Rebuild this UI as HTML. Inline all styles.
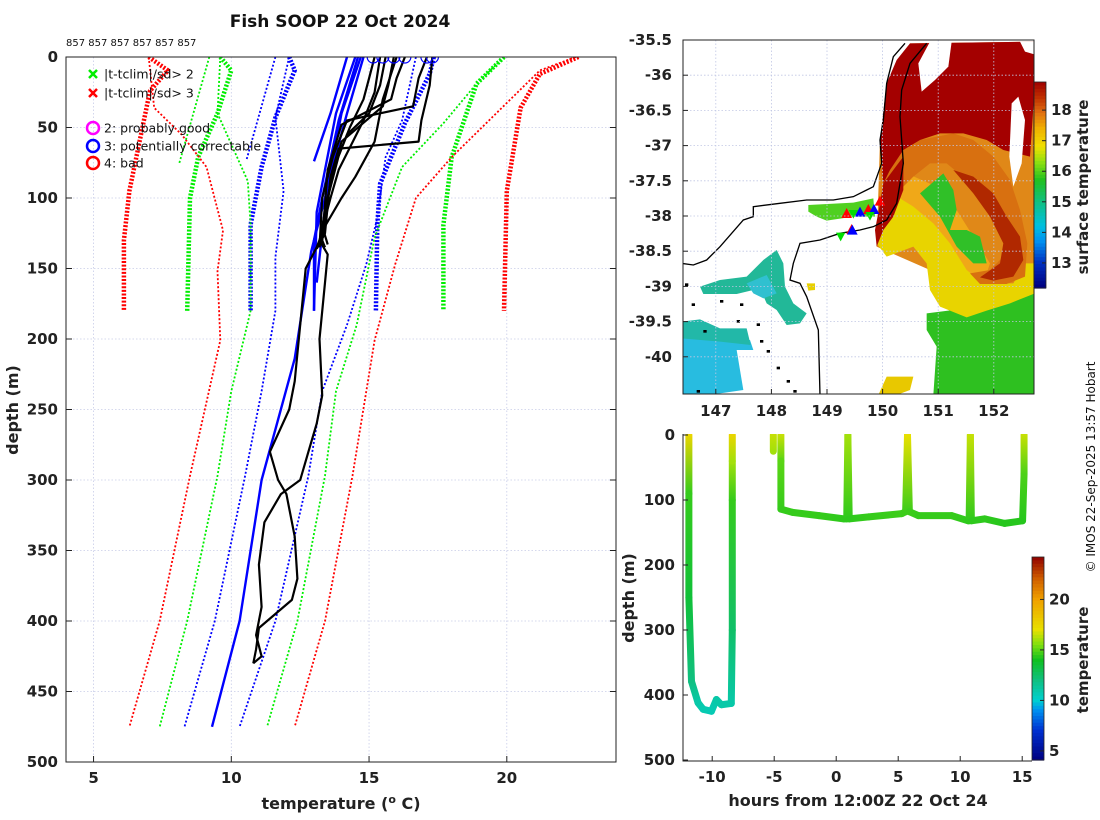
<!DOCTYPE html>
<html><head><meta charset="utf-8"><style>
body{margin:0;background:#fff}
svg{display:block;font-family:"DejaVu Sans","Liberation Sans",sans-serif}
.tk{font-size:15px;font-weight:bold;fill:#222}
</style></head><body>
<svg id="root" width="1100" height="820" viewBox="0 0 1100 820" xmlns="http://www.w3.org/2000/svg">
<defs>
<clipPath id="mainClip"><rect x="66" y="57" width="550" height="705"/></clipPath>
<clipPath id="mapClip"><rect x="683" y="40" width="351" height="354"/></clipPath>
<clipPath id="botClip"><rect x="683" y="434" width="349" height="327"/></clipPath>
</defs>
<rect width="1100" height="820" fill="#fff"/>
<text x="340" y="27" text-anchor="middle" font-size="17" font-weight="bold" fill="#111">Fish SOOP 22 Oct 2024</text>
<text x="66" y="46" font-size="10" fill="#111">857 857 857 857 857 857</text>
<g id="main"></g>
<g id="map"></g>
<g id="bot"></g>
<text transform="translate(1095,467) rotate(-90)" text-anchor="middle" font-size="12" fill="#111">© IMOS 22-Sep-2025 13:57 Hobart</text>
</svg>
<script>
const NS="http://www.w3.org/2000/svg";
function mk(tag,attrs,parent){const e=document.createElementNS(NS,tag);for(const k in attrs)e.setAttribute(k,attrs[k]);parent.appendChild(e);return e;}

// ---------- main profile plot data ----------
const xTicks=[5,10,15,20];
const yTicks=[0,50,100,150,200,250,300,350,400,450,500];
const redShortL_T=[7.0,7.7,7.05,6.3,6.1,6.1], redShortL_D=[0,9.5,24,95,130,180];
const greenShortL_T=[9.6,10.0,9.5,8.8,8.5,8.4], greenShortL_D=[0,9.5,40,71,100,180];
const blueShortL_T=[12.1,12.3,11.6,11.1,10.7,10.7], blueShortL_D=[0,9.5,43,78,119,180];
const blueShortR_T=[17.35,17.2,16.3,15.4,15.3,15.25], blueShortR_D=[0,12,47,90,119,180];
const greenShortR_T=[19.9,18.9,18.0,17.7,17.7], greenShortR_D=[0,19,71,119,180];
const redShortR_T=[22.6,21.2,20.5,20.0,19.9], redShortR_D=[0,12,36,95,180];
const redLongL_T=[7.0,7.2,8.2,9.1,9.7,9.5,9.6,8.5,7.4,6.3], redLongL_D=[0,36,55,78,123,152,201,297,400,475];
const greenLongL_T=[9.6,9.5,10.6,10.7,10.7,10.0,9.5,8.4,7.4], greenLongL_D=[0,40,88,119,180,237,297,400,475];
const greenTop_T=[9.2,8.1], greenTop_D=[0,76];
const blueTop_T=[11.6,10.55], blueTop_D=[0,73];
const blueLongL_T=[12.1,11.6,11.9,11.6,11.6,11.1,10.5,9.4,8.3], blueLongL_D=[0,43,95,142,180,237,297,400,475];
const blueLongR_T=[16.7,16.2,15.6,15.3,14.9,14.2,13.3,12.8,11.6,10.3], blueLongR_D=[0,45,71,114,147,190,237,297,400,475];
const greenLongR_T=[19.9,18.9,17.7,16.2,15.2,14.55,13.8,13.4,12.4,11.3], greenLongR_D=[0,19,47,78,128,190,237,297,400,475];
const redLongR_T=[22.5,21.2,19.25,18.0,16.7,15.95,15.2,14.4,13.4,12.3], redLongR_D=[0,9.5,47,71,100,147,201,297,400,475];
const meanA_T=[14.2,13.6,13.0], meanA_D=[0,40,74];
const meanB_T=[14.5,13.8,13.4,13.1,13.0], meanB_D=[0,40,80,110,180];
const meanC_T=[14.7,14.0,13.4,13.0,13.0], meanC_D=[0,40,100,130,180];
const meanD_T=[14.8,14.2,13.5,13.1], meanD_D=[0,40,90,160];
const meanLong_T=[14.6,13.9,13.3,13.0,12.9,12.3,11.1,10.3,9.3], meanLong_D=[0,45,100,130,138,214,300,400,475];
const obs1_T=[15.2,15.0,14.8,14.3,13.9,13.5,13.3,13.4], obs1_D=[0,15,30,50,70,100,130,135];
const obs2_T=[15.6,15.4,15.0,14.2,13.7,13.4,13.2], obs2_D=[0,20,40,55,80,110,135];
const obs3_T=[15.9,15.7,15.5,14.0,13.6,13.3,13.5], obs3_D=[0,20,35,60,90,120,133];
const obs4_T=[16.3,16.0,15.8,14.0,13.5,13.3], obs4_D=[0,15,30,48,80,130];
const obs5_T=[17.1,16.8,16.6,14.2,13.7,13.3,13.2], obs5_D=[0,15,35,45,70,100,135];
const obs6_T=[17.3,17.2,16.9,16.8,13.9,13.6,13.4,13.1], obs6_D=[0,20,45,60,65,85,125,136];
const obs7_T=[16.0,15.5,15.2,14.5,14.0,13.4,13.1,12.7,12.5,12.3,12.1,11.4,11.7,12.0,12.3,12.4,12.2,11.3,11.0,10.9,10.8], obs7_D=[0,30,60,85,100,120,135,150,190,230,250,280,300,310,340,370,385,400,405,420,430];
const obs8_T=[15.4,15.2,14.8,13.9,13.6,13.2,13.5,13.4,13.2,13.3,13.1,12.8,12.5,11.8,11.2,11.0,11.1,10.9,11.1,10.8], obs8_D=[0,25,45,80,100,130,140,160,200,240,260,280,300,310,330,360,390,410,425,430];
const flagT=[15.15,15.5,15.9,16.3,17.1,17.3];

const X=t=>66+(t-4)*27.55, Y=d=>57+d*1.41;
const main=document.getElementById('main');
for(const t of xTicks){const l=mk('line',{x1:X(t),x2:X(t),y1:57,y2:762,stroke:'#c8cce8','stroke-width':0.8,'stroke-dasharray':'1.5,2'},main);

}
for(const d of yTicks){const l=mk('line',{x1:66,x2:616,y1:Y(d),y2:Y(d),stroke:'#c8cce8','stroke-width':0.8,'stroke-dasharray':'1.5,2'},main);

}
const mg=mk('g',{'clip-path':'url(#mainClip)'},main);
function pl(T,D,color,w,dash,name){
  const pts=T.map((t,i)=>X(t).toFixed(1)+','+Y(D[i]).toFixed(1)).join(' ');
  const p=mk('polyline',{points:pts,fill:'none',stroke:color,'stroke-width':w,'stroke-linejoin':'round'},mg);
  if(dash)p.setAttribute('stroke-dasharray',dash);
  
  
}
const thick=[[redShortL_T,redShortL_D,'#f00'],[greenShortL_T,greenShortL_D,'#0e0'],[blueShortL_T,blueShortL_D,'#00f'],[blueShortR_T,blueShortR_D,'#00f'],[greenShortR_T,greenShortR_D,'#0e0'],[redShortR_T,redShortR_D,'#f00']];
for(const s of thick)pl(s[0],s[1],s[2],4.5,'2,1.6','climatology-short-line');
const thin=[[redLongL_T,redLongL_D,'#f00'],[greenLongL_T,greenLongL_D,'#0e0'],[greenTop_T,greenTop_D,'#0e0'],[blueTop_T,blueTop_D,'#00f'],[blueLongL_T,blueLongL_D,'#00f'],[blueLongR_T,blueLongR_D,'#00f'],[greenLongR_T,greenLongR_D,'#0e0'],[redLongR_T,redLongR_D,'#f00']];
for(const s of thin)pl(s[0],s[1],s[2],1.8,'2,2','climatology-long-line');
for(const s of [[meanA_T,meanA_D],[meanB_T,meanB_D],[meanC_T,meanC_D],[meanD_T,meanD_D],[meanLong_T,meanLong_D]])pl(s[0],s[1],'#00f',2.4,null,'climatology-mean-line');
for(const s of [[obs1_T,obs1_D],[obs2_T,obs2_D],[obs3_T,obs3_D],[obs4_T,obs4_D],[obs5_T,obs5_D],[obs6_T,obs6_D],[obs7_T,obs7_D],[obs8_T,obs8_D]])pl(s[0],s[1],'#000',2.2,null,'temperature-profile');
for(const t of flagT){const c=mk('circle',{cx:X(t),cy:57,r:6,fill:'none',stroke:'#00f','stroke-width':1.2},mg);

}
const bx=mk('rect',{x:66,y:57,width:550,height:705,fill:'none',stroke:'#222','stroke-width':1},main);


for(const t of xTicks){mk('line',{x1:X(t),x2:X(t),y1:762,y2:756,stroke:'#222'},main);
const tx=mk('text',{x:X(t),y:783,'text-anchor':'middle',class:'tk'},main);tx.textContent=t;

}
for(const d of yTicks){mk('line',{x1:66,x2:72,y1:Y(d),y2:Y(d),stroke:'#222'},main);mk('line',{x1:616,x2:610,y1:Y(d),y2:Y(d),stroke:'#222'},main);
const tx=mk('text',{x:58,y:Y(d)+5,'text-anchor':'end',class:'tk'},main);tx.textContent=d;

}
let t1=mk('text',{x:341,y:809,'text-anchor':'middle','font-size':16,'font-weight':'bold',fill:'#222'},main);
t1.innerHTML='temperature (<tspan dy="-6" font-size="11">o</tspan><tspan dy="6"> C)</tspan>';


let t2=mk('text',{transform:'translate(18,410) rotate(-90)','text-anchor':'middle','font-size':16,'font-weight':'bold',fill:'#222'},main);t2.textContent='depth (m)';


const lg=mk('g',{},main);


const legItems=[['x','#0e0',74,'|t-tclim|/sd> 2'],['x','#f00',93,'|t-tclim|/sd> 3'],['o','#f0f',128,'2: probably good'],['o','#00f',146,'3: potentially correctable'],['o','#f00',163,'4: bad']];
for(const it of legItems){
  if(it[0]==='x'){mk('path',{d:`M89 ${it[2]-4}l8 8M97 ${it[2]-4}l-8 8`,stroke:it[1],'stroke-width':2.5},lg);}
  else mk('circle',{cx:93,cy:it[2],r:6,fill:'none',stroke:it[1],'stroke-width':2.5},lg);
  const tx=mk('text',{x:104,y:it[2]+4.5,'font-size':12.5,fill:'#111'},lg);tx.textContent=it[3];
  
  
}

// ---------- map ----------
const lonTicks=[147,148,149,150,151,152];
const latTicks=[-35.5,-36,-36.5,-37,-37.5,-38,-38.5,-39,-39.5,-40];
const sstTicks=[13,14,15,16,17,18];
const LX=lo=>683+(lo-146.41)*55.6, LY=la=>40+(-35.5-la)*70.4;
const map=document.getElementById('map');
const mgc=mk('g',{'clip-path':'url(#mapClip)'},map);
const img=mk('g',{transform:'translate(620,30) scale(0.33333)'},mgc);


const regions=[
['185,900 260,890 330,930 390,930 400,960 350,960 370,1080 300,1090 185,1095','#28bce0'],
['185,875 240,868 300,895 380,895 392,945 300,935 185,925','#22b8a8'],
['240,770 300,750 380,740 430,690 470,660 490,700 495,770 520,820 560,850 540,880 500,885 470,840 440,820 420,775 350,792 250,792','#22b898'],
['380,760 440,735 470,790 430,805 400,790','#30c0d0'],
['565,525 700,518 760,505 765,560 700,560 620,572 590,560 565,545','#50d020'],
['560,760 585,760 585,780 565,782','#e8d000'],
['775,1095 800,1040 880,1040 870,1080 830,1095','#e8c800'],
['780,330 870,40 1245,35 1245,720 1150,790 1000,770 930,720 770,650','#e08818'],
['920,850 1000,840 1100,820 1180,800 1245,780 1245,1095 940,1095 950,950 920,900','#2ec020'],
['770,640 790,560 800,480 880,480 900,520 960,560 1000,640 1050,700 1100,760 1180,760 1215,700 1245,700 1245,790 1170,820 1100,842 1040,862 960,830 930,780 920,700 880,650 800,680','#e8d400'],
['800,480 860,430 950,470 1010,540 1060,620 1110,700 1090,760 1040,720 990,640 940,580 880,530','#f0a818'],
['900,490 970,430 1000,480 1010,540 990,600 1040,600 1080,620 1100,700 1060,700 1010,650 960,560','#30c028'],
['780,420 830,360 900,330 1000,310 1060,330 1120,380 1170,450 1200,540 1222,640 1215,740 1160,762 1080,762 1050,730 1110,720 1150,680 1150,600 1110,520 1040,450 980,400 930,400 880,440 840,480 800,500 790,460','#d87010'],
['1000,420 1060,440 1120,490 1160,560 1200,620 1210,690 1180,740 1120,752 1080,742 1140,700 1150,640 1110,560 1060,490','#b02800'],
['870,40 1245,35 1245,160 1230,380 1150,360 1100,330 1030,310 960,310 900,330 850,360 810,420 790,460 780,330 800,160 830,90','#a40000'],
['790,460 850,380 850,480 820,560 790,600 770,650 765,600 780,520','#a80800'],
['930,35 995,35 985,110 945,150 905,185 895,100','#ffffff'],
['1175,220 1195,200 1215,270 1205,400 1180,470 1168,380','#ffffff'],
['1200,35 1250,35 1250,75 1215,65','#ffffff']];
for(const r of regions){const p=mk('polygon',{points:r[0],fill:r[1]},img);

}
const coast=mk('polyline',{points:'185,700 220,705 260,690 300,650 370,570 400,560 400,530 480,520 560,510 640,510 700,500 740,480 760,470 785,400 780,330 790,270 800,160 820,80 855,40',fill:'none',stroke:'#000','stroke-width':4},img);


const iso=mk('polyline',{points:'600,1095 595,900 560,800 540,760 510,750 520,700 540,640 600,630 660,610 720,600 760,590 800,570 830,520 850,400 840,260 845,180 870,100 920,40',fill:'none',stroke:'#000','stroke-width':4},img);


for(const xy of [[195,760],[215,820],[300,810],[360,820],[410,880],[420,930],[440,960],[470,1010],[500,1050],[520,1080],[350,870],[230,1080],[250,900]]){mk('rect',{x:xy[0],y:xy[1],width:10,height:8,fill:'#000'},img);}
const triUp=[[780,515,'#f00'],[695,600,'#f00'],[745,540,'#f00'],[680,552,'#f00'],[720,548,'#00f'],[762,540,'#00f'],[697,602,'#00f']];
for(const t of triUp){const p=mk('polygon',{points:`${t[0]},${t[1]-18} ${t[0]-16},${t[1]+12} ${t[0]+16},${t[1]+12}`,fill:t[2]},img);

}
for(const t of [[662,620],[700,552],[750,558]]){const p=mk('polygon',{points:`${t[0]-14},${t[1]-12} ${t[0]+14},${t[1]-12} ${t[0]},${t[1]+14}`,fill:'#0d0'},img);

}
for(const lo of lonTicks){mk('line',{x1:LX(lo),x2:LX(lo),y1:40,y2:394,stroke:'#c0c6e4','stroke-width':0.8,'stroke-dasharray':'1.5,2'},map);
mk('line',{x1:LX(lo),x2:LX(lo),y1:394,y2:389,stroke:'#222'},map);
const tx=mk('text',{x:LX(lo),y:416,'text-anchor':'middle',class:'tk'},map);tx.textContent=lo;

}
for(const la of latTicks){mk('line',{x1:683,x2:1034,y1:LY(la),y2:LY(la),stroke:'#c0c6e4','stroke-width':0.8,'stroke-dasharray':'1.5,2'},map);
mk('line',{x1:683,x2:688,y1:LY(la),y2:LY(la),stroke:'#222'},map);
const tx=mk('text',{x:672,y:LY(la)+5,'text-anchor':'end',class:'tk'},map);tx.textContent=la;

}
const mf=mk('rect',{x:683,y:40,width:351,height:354,fill:'none',stroke:'#222'},map);


const sstStops=[[12.2,'#000080'],[13,'#0030c0'],[13.7,'#0090f0'],[14.2,'#00c0e0'],[15,'#10c080'],[15.7,'#20c020'],[16.3,'#90e010'],[16.8,'#f0e000'],[17.4,'#f0b000'],[17.9,'#e07010'],[18.4,'#c03000'],[18.92,'#a00000']];
const tStops=[[4.1,'#000080'],[7,'#0030d0'],[9,'#0090f0'],[10,'#00d0d0'],[12,'#10c080'],[14,'#10c020'],[15.5,'#80e010'],[17,'#e8e000'],[20,'#f0a000'],[22,'#d06000'],[24.2,'#900000']];
function hex(c){return [1,3,5].map(i=>parseInt(c.substr(i,2),16));}
function cmap(stops,v){if(v<=stops[0][0])return stops[0][1];for(let i=1;i<stops.length;i++){if(v<=stops[i][0]){const a=hex(stops[i-1][1]),b=hex(stops[i][1]),f=(v-stops[i-1][0])/(stops[i][0]-stops[i-1][0]);return 'rgb('+a.map((x,k)=>Math.round(x+(b[k]-x)*f)).join(',')+')';}}return stops[stops.length-1][1];}
function colorbar(parent,x,y0,y1,vmin,vmax,stops,ticks,name){
  const g=mk('g',{},parent);
  
  
  const n=60,h=(y1-y0)/n;
  for(let i=0;i<n;i++){const v=vmax-(i+0.5)*(vmax-vmin)/n;mk('rect',{x:x,y:y0+i*h,width:12,height:h+0.6,fill:cmap(stops,v)},g);}
  mk('rect',{x:x,y:y0,width:12,height:y1-y0,fill:'none',stroke:'#222','stroke-width':0.8},g);
  for(const t of ticks){const yy=y0+(vmax-t)/(vmax-vmin)*(y1-y0);mk('line',{x1:x+12,x2:x+8,y1:yy,y2:yy,stroke:'#222'},g);
  const tx=mk('text',{x:x+17,y:yy+5,class:'tk'},g);tx.textContent=t;
  
  }
}
colorbar(map,1034,82,288,12.18,18.92,sstStops,sstTicks,'sst-colorbar');
let ct=mk('text',{transform:'translate(1088,187) rotate(-90)','text-anchor':'middle','font-size':15,'font-weight':'bold',fill:'#222'},map);ct.textContent='surface temperature';



// ---------- bottom depth-time plot ----------
const hTicks=[-10,-5,0,5,10,15];
const dTicks=[0,100,200,300,400,500];
const tempTicks=[5,10,15,20];
const profA_t=[-11.88,-11.88,-11.88,-11.67,-11.14,-10.73,-10.06,-9.66,-9.26,-8.46,-8.38,-8.38,-8.38,-8.38];
const profA_d=[0,90,250,379,412,422,425,407,415,413,300,100,40,0];
const profA_temp=[17.5,14.5,13.5,12,11,10.8,10.7,11,11,11,12.5,14.5,16,17.5];
const profB_t=[-5.07,-5.07], profB_d=[0,25], profB_temp=[16.5,16];
const profC_t=[-4.46,-4.46,-4.46,-3.52,-1.39,0.62,0.85,0.94,1.05,2.62,5.29,5.6,5.75,5.9,6.63,9.31,10.64,10.72,10.82,10.9,11.98,13.58,15.03,15.15,15.15];
const profC_d=[0,40,114,119,124,129,129,0,129,126,121,118,0,118,124,124,132,132,0,132,129,136,132,60,0];
const profC_temp=[16.5,15,14.5,14.5,14.5,14.4,14.4,16,14.4,14.5,14.6,14.6,17,14.6,14.5,14.5,14.4,14.4,16.5,14.4,14.4,14.3,14.3,14.8,16.5];
const BX=h=>836.2+h*12.4, BY=d=>435+d*0.65;
const bot=document.getElementById('bot');
const bg=mk('g',{'clip-path':'url(#botClip)'},bot);
const defs=document.querySelector('defs');let gid=0;
function track(T,D,C){
  for(let i=0;i<T.length-1;i++){
    const x1=BX(T[i]),y1=BY(D[i]),x2=BX(T[i+1]),y2=BY(D[i+1]);
    const id='g'+(gid++);
    const lgd=mk('linearGradient',{id:id,gradientUnits:'userSpaceOnUse',x1:x1,y1:y1,x2:x2+0.01,y2:y2+0.01},defs);
    mk('stop',{offset:0,'stop-color':cmap(tStops,C[i])},lgd);mk('stop',{offset:1,'stop-color':cmap(tStops,C[i+1])},lgd);
    const l=mk('line',{x1:x1,y1:y1,x2:x2,y2:y2,stroke:`url(#${id})`,'stroke-width':7,'stroke-linecap':'round'},bg);
    
    
  }
}
track(profA_t,profA_d,profA_temp);track(profB_t,profB_d,profB_temp);track(profC_t,profC_d,profC_temp);
const bf=mk('path',{d:'M683 434V761H1032',fill:'none',stroke:'#222'},bot);


for(const h of hTicks){mk('line',{x1:BX(h),x2:BX(h),y1:761,y2:756,stroke:'#222'},bot);
const tx=mk('text',{x:BX(h),y:782,'text-anchor':'middle',class:'tk'},bot);tx.textContent=h;

}
for(const d of dTicks){mk('line',{x1:683,x2:688,y1:BY(d),y2:BY(d),stroke:'#222'},bot);
const tx=mk('text',{x:675,y:BY(d)+5,'text-anchor':'end',class:'tk'},bot);tx.textContent=d;

}
let bxl=mk('text',{x:858,y:806,'text-anchor':'middle','font-size':16,'font-weight':'bold',fill:'#222'},bot);bxl.textContent='hours from 12:00Z 22 Oct 24';


let byl=mk('text',{transform:'translate(634,598) rotate(-90)','text-anchor':'middle','font-size':16,'font-weight':'bold',fill:'#222'},bot);byl.textContent='depth (m)';


colorbar(bot,1032,557,760,4.1,24.2,tStops,tempTicks,'temperature-colorbar');
let tcl=mk('text',{transform:'translate(1088,660) rotate(-90)','text-anchor':'middle','font-size':15,'font-weight':'bold',fill:'#222'},bot);tcl.textContent='temperature';


</script>
</body></html>
